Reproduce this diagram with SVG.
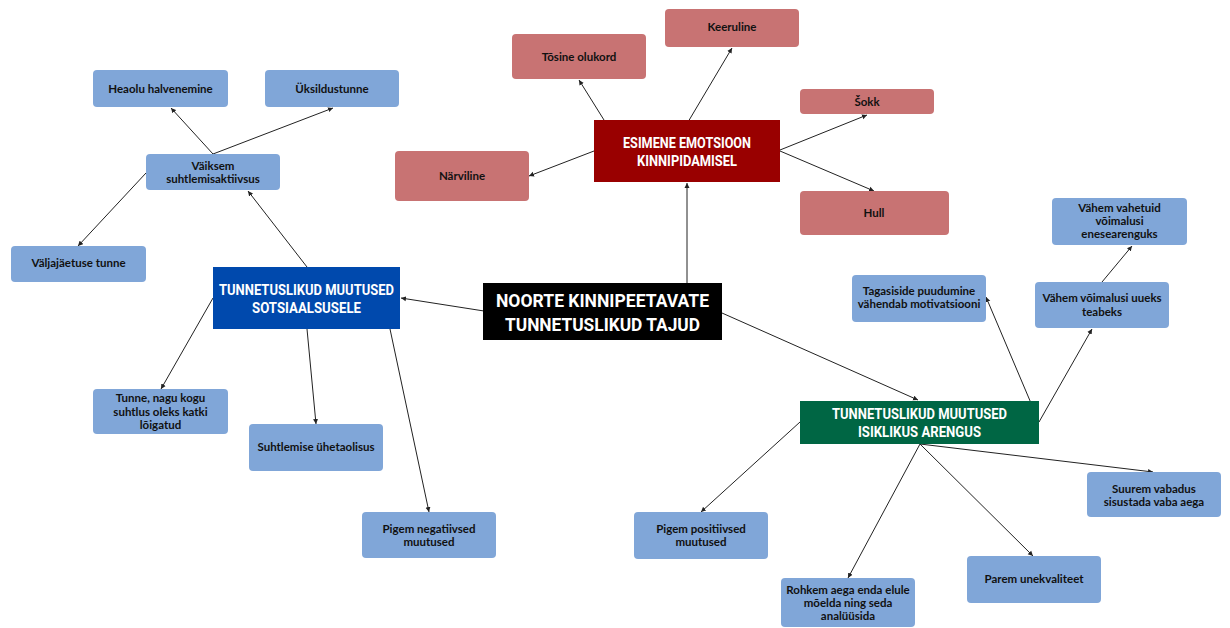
<svg xmlns="http://www.w3.org/2000/svg" width="1230" height="628" viewBox="0 0 1230 628">
<style>
.bg{fill:#ffffff}
.blue{fill:#80a6d8}
.red{fill:#c87373}
.t{font-family:Lato,"Noto Sans","Liberation Sans",sans-serif;font-weight:700;font-size:11.5px;fill:#111111;text-anchor:middle}
.h{font-family:Roboto,"Liberation Sans",sans-serif;font-weight:700;fill:#ffffff;text-anchor:middle}
.c line{stroke:#222;stroke-width:1;marker-end:url(#ah)}
</style>
<defs>
<marker id="ah" markerUnits="userSpaceOnUse" markerWidth="6" markerHeight="6" refX="5" refY="3" orient="auto">
<path d="M0,0.5 L5,3 L0,5.5 z" fill="#222"/>
</marker>
</defs>
<rect class="bg" x="0" y="0" width="1230" height="628"/>
<g id="connectors" class="c">
<line x1="687" y1="283" x2="687" y2="183"/>
<line x1="484" y1="311" x2="401" y2="298"/>
<line x1="722" y1="313" x2="918" y2="400"/>
<line x1="604" y1="120" x2="579" y2="80"/>
<line x1="688" y1="122" x2="732" y2="48"/>
<line x1="780" y1="150" x2="867" y2="115"/>
<line x1="780" y1="151" x2="874" y2="191"/>
<line x1="594" y1="151" x2="529" y2="176"/>
<line x1="307" y1="267" x2="248" y2="191"/>
<line x1="213" y1="154" x2="171" y2="108"/>
<line x1="213" y1="154" x2="333" y2="108"/>
<line x1="146" y1="173" x2="78" y2="246"/>
<line x1="213" y1="298" x2="161" y2="389"/>
<line x1="307" y1="329" x2="316" y2="424"/>
<line x1="390" y1="329" x2="429" y2="512"/>
<line x1="1039" y1="422" x2="986" y2="297"/>
<line x1="1039" y1="422" x2="1092" y2="329"/>
<line x1="1102" y1="282" x2="1132" y2="246"/>
<line x1="800" y1="422" x2="701" y2="512"/>
<line x1="920" y1="444" x2="848" y2="578"/>
<line x1="920" y1="444" x2="1033" y2="556"/>
<line x1="920" y1="444" x2="1153" y2="472"/>
</g>
<g id="center">
<rect x="483" y="283" width="239" height="57" fill="#000"/>
<text class="h" font-size="18" x="602.5" y="307" textLength="213" lengthAdjust="spacingAndGlyphs">NOORTE KINNIPEETAVATE</text>
<text class="h" font-size="18" x="602.5" y="331" textLength="195" lengthAdjust="spacingAndGlyphs">TUNNETUSLIKUD TAJUD</text>
</g>
<g id="esimene">
<rect x="594" y="120" width="186" height="62" fill="#990000"/>
<text class="h" font-size="14.5" x="687" y="148" textLength="128" lengthAdjust="spacingAndGlyphs">ESIMENE EMOTSIOON</text>
<text class="h" font-size="14.5" x="687" y="166" textLength="100" lengthAdjust="spacingAndGlyphs">KINNIPIDAMISEL</text>
</g>
<g id="sotsiaalsusele">
<rect x="213" y="267" width="187" height="62" fill="#0049ad"/>
<text class="h" font-size="15" x="306.5" y="295" textLength="175" lengthAdjust="spacingAndGlyphs">TUNNETUSLIKUD MUUTUSED</text>
<text class="h" font-size="15" x="306.5" y="313" textLength="109" lengthAdjust="spacingAndGlyphs">SOTSIAALSUSELE</text>
</g>
<g id="isiklikus">
<rect x="800" y="401" width="239" height="43" fill="#006644"/>
<text class="h" font-size="15" x="919.5" y="419" textLength="175" lengthAdjust="spacingAndGlyphs">TUNNETUSLIKUD MUUTUSED</text>
<text class="h" font-size="15" x="919.5" y="437" textLength="123" lengthAdjust="spacingAndGlyphs">ISIKLIKUS ARENGUS</text>
</g>
<g id="tosine"><rect class="red" x="512" y="34" width="134" height="45" rx="4"/><text class="t" x="579" y="61">Tõsine olukord</text></g>
<g id="keeruline"><rect class="red" x="665" y="9" width="134" height="38" rx="4"/><text class="t" x="732" y="31">Keeruline</text></g>
<g id="sokk"><rect class="red" x="800" y="89" width="134" height="25" rx="4"/><text class="t" x="867" y="106">Šokk</text></g>
<g id="narviline"><rect class="red" x="395" y="151" width="134" height="50" rx="4"/><text class="t" x="462" y="180">Närviline</text></g>
<g id="hull"><rect class="red" x="800" y="191" width="149" height="44" rx="4"/><text class="t" x="874" y="217">Hull</text></g>
<g id="heaolu"><rect class="blue" x="93" y="70" width="135" height="37" rx="4"/><text class="t" x="160.5" y="93">Heaolu halvenemine</text></g>
<g id="uksildus"><rect class="blue" x="265" y="70" width="134" height="37" rx="4"/><text class="t" x="332" y="93">Üksildustunne</text></g>
<g id="vaiksem"><rect class="blue" x="146" y="154" width="134" height="36" rx="4"/><text class="t" x="213" y="170">Väiksem</text><text class="t" x="213" y="183">suhtlemisaktiivsus</text></g>
<g id="valjajaetuse"><rect class="blue" x="11" y="246" width="135" height="36" rx="4"/><text class="t" x="78.5" y="267">Väljajäetuse tunne</text></g>
<g id="tunne"><rect class="blue" x="93" y="389" width="135" height="45" rx="4"/><text class="t" x="160.5" y="402">Tunne, nagu kogu</text><text class="t" x="160.5" y="416">suhtlus oleks katki</text><text class="t" x="160.5" y="429">lõigatud</text></g>
<g id="suhtlemise"><rect class="blue" x="249" y="424" width="134" height="47" rx="4"/><text class="t" x="316" y="451">Suhtlemise ühetaolisus</text></g>
<g id="negatiivsed"><rect class="blue" x="362" y="512" width="134" height="46" rx="4"/><text class="t" x="429" y="533">Pigem negatiivsed</text><text class="t" x="429" y="546">muutused</text></g>
<g id="vahetuid"><rect class="blue" x="1052" y="198" width="135" height="47" rx="4"/><text class="t" x="1119.5" y="212">Vähem vahetuid</text><text class="t" x="1119.5" y="225">võimalusi</text><text class="t" x="1119.5" y="238">enesearenguks</text></g>
<g id="tagasiside"><rect class="blue" x="852" y="275" width="134" height="47" rx="4"/><text class="t" x="919" y="295">Tagasiside puudumine</text><text class="t" x="919" y="308">vähendab motivatsiooni</text></g>
<g id="teabeks"><rect class="blue" x="1035" y="282" width="134" height="46" rx="4"/><text class="t" x="1102" y="302">Vähem võimalusi uueks</text><text class="t" x="1102" y="316">teabeks</text></g>
<g id="positiivsed"><rect class="blue" x="634" y="512" width="134" height="47" rx="4"/><text class="t" x="701" y="533">Pigem positiivsed</text><text class="t" x="701" y="546">muutused</text></g>
<g id="rohkem"><rect class="blue" x="781" y="578" width="134" height="49" rx="4"/><text class="t" x="848" y="594">Rohkem aega enda elule</text><text class="t" x="848" y="607">mõelda ning seda</text><text class="t" x="848" y="620">analüüsida</text></g>
<g id="parem"><rect class="blue" x="967" y="556" width="134" height="47" rx="4"/><text class="t" x="1034" y="583">Parem unekvaliteet</text></g>
<g id="suurem"><rect class="blue" x="1087" y="472" width="134" height="45" rx="4"/><text class="t" x="1154" y="493">Suurem vabadus</text><text class="t" x="1154" y="506">sisustada vaba aega</text></g>
</svg>
